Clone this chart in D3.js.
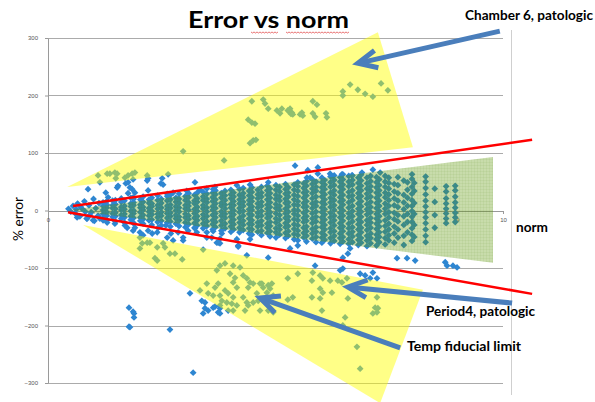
<!DOCTYPE html>
<html>
<head>
<meta charset="utf-8">
<script src="https://cdn.jsdelivr.net/npm/d3@7"></script>
<style>
  body { margin: 0; background: #fff; }
  svg { display: block; }
</style>
</head>
<body>
<svg id="chart" width="595" height="402"></svg>
<script>
// Axis tick values
const yTicks = [-300, -200, -100, 0, 100, 200, 300];
const xTicks = [0, 1, 2, 3, 4, 5, 6, 7, 8, 9, 10];

// Measurements [norm, % error] — group sitting high above the band
const upperCluster = [
  [1.10,61],[1.14,49],[1.30,64],[1.36,64],[1.47,66],[1.52,64],[1.49,56],[1.69,57],[1.76,61],
  [1.85,64],[1.91,66],[1.87,54],[2.18,61],[2.20,56],[2.64,63],[2.97,103],[3.87,87],
  [4.40,158],[4.55,151],[4.48,153],[4.44,117],[4.51,122],[4.57,123],[4.48,190],[4.73,193],
  [4.77,186],[4.84,177],[5.03,174],[5.10,169],[5.14,177],[5.27,174],[5.30,172],[5.32,177],
  [5.34,168],[5.36,170],[5.38,167],[5.54,167],[5.58,170],[5.60,165],[5.82,190],[5.91,184],
  [5.82,169],[5.87,163],[6.11,169],[6.13,162],[6.48,207],[6.48,200],[6.64,219],[6.81,210],
  [6.97,203],[7.14,198],[7.32,221],[7.47,209]
];

// Group sitting well below the band
const lowerCluster = [
  [2.02,-47],[2.07,-57],[2.02,-66],[2.18,-56],[2.24,-56],[2.40,-64],[2.53,-57],[2.57,-64],
  [2.35,-83],[2.40,-87],[2.68,-75],[2.79,-75],[2.95,-85],[3.41,-68],[3.71,-104],[3.78,-96],
  [3.89,-92],[4.07,-96],[4.22,-99],[4.00,-110],[4.11,-117],[4.29,-113],[4.37,-118],[3.49,-127],
  [3.67,-134],[3.74,-127],[4.07,-125],[4.15,-134],[3.89,-139],[3.34,-139],[3.52,-144],
  [3.63,-148],[3.78,-148],[3.96,-144],[4.07,-151],[3.82,-157],[3.93,-160],[4.04,-162],
  [4.15,-165],[4.29,-151],[4.37,-160],[4.40,-165],[4.33,-174],[4.51,-160],[4.62,-157],
  [4.70,-127],[4.73,-134],[4.84,-130],[4.92,-127],[4.81,-143],[4.95,-148],[4.59,-144],
  [3.96,-174],[4.07,-174],[3.78,-165],[4.66,-174],[4.95,-177],[4.40,-134],[4.44,-125],
  [4.84,-174],[5.27,-118],[5.27,-155],[5.49,-110],[5.38,-151],[4.51,-127],[4.66,-127],
  [4.88,-136],[5.82,-108],[5.80,-122],[5.98,-113],[6.04,-118],[6.20,-122],[6.37,-122],
  [6.46,-125],[6.57,-118],[5.98,-136],[6.04,-143],[5.80,-151],[5.98,-153],[6.24,-143],
  [6.59,-153],[7.23,-151],[7.19,-169],[7.25,-170],[7.23,-177],[7.14,-179],[6.02,-174],
  [6.53,-186],[6.48,-200],[6.79,-237],[6.86,-275]
];

// Points hugging the edges of the band
const bandEdge = [
  [0.45,3],[0.50,-2],[0.55,8],[0.60,-5],[0.62,2],[0.65,12],[0.70,-10],[0.72,6],[0.75,3],
  [0.80,16],[0.82,-2],[0.85,-14],[0.90,9],[0.92,-8],[0.95,-3],[1.00,20],[1.02,-18],[1.05,4],
  [1.10,-9],[1.12,13],
  [0.88,37],[1.27,31],[1.32,23],[1.52,40],[1.54,43],[1.71,47],[1.76,49],[1.80,40],[1.85,37],
  [1.87,23],[1.91,31],[1.76,30],[2.18,52],[2.20,35],[2.48,47],[2.51,56],[2.53,45],[2.62,29],
  [2.75,31],[3.05,34],[3.23,49],[3.34,36],[3.49,38],[3.63,37],[3.67,41],[4.15,44],[4.44,45],
  [4.84,49],[5.43,78],[5.71,70],[5.93,75],[5.69,57],[5.76,57],[5.93,64],[6.20,64],[6.24,59],
  [6.46,63],[6.68,61],[6.90,66],[7.14,71],[7.30,66],
  [0.64,-12],[0.86,-14],[0.99,-17],[1.14,-14],[1.21,-17],[1.30,-21],[1.47,-23],[1.69,-26],
  [1.74,-30],[1.87,-21],[1.91,-30],[1.87,-35],[2.02,-38],[2.09,-43],[2.20,-35],[2.29,-40],
  [2.40,-38],[2.42,-30],[2.59,-26],[2.62,-47],[2.70,-40],[2.75,-52],[2.86,-38],[2.97,-52],
  [2.97,-47],[3.08,-35],[3.23,-31],[3.27,-38],[3.49,-38],[3.49,-47],[3.60,-47],[3.63,-36],
  [3.71,-56],[3.74,-56],[3.78,-57],[3.78,-49],[3.82,-40],[4.15,-50],[4.18,-61],[4.18,-63],
  [4.44,-50],[4.37,-78],[4.84,-82],[5.32,-66],[5.49,-61],[5.87,-96],[6.42,-104],[6.48,-101],
  [6.48,-82],[6.59,-75],[6.64,-66],[6.86,-110],[6.97,-113],[7.14,-108],[7.23,-118],
  [7.08,-118],[7.67,-83],[7.89,-83],[8.07,-87],[8.73,-90],[8.77,-96],[8.90,-96],[8.99,-99]
];

// Isolated points far below
const outliers = [
  [3.12,-144],[3.38,-157],[3.41,-179],[3.45,-170],[3.45,-160],[3.52,-174],[3.63,-169],
  [3.67,-167],[3.74,-177],[3.78,-170],[3.78,-179],[1.78,-169],[1.87,-176],[1.89,-179],
  [1.89,-186],[1.78,-202],[1.80,-203],[2.68,-207],[3.19,-282]
];

// Dense core of the distribution: [norm, [% error, ...]]
const coreColumns = [
  [1.21, [-13,-6,1,8,14]],
  [1.29, [-17,-9,-3,5,10,16]],
  [1.42, [-11,-5,4,9,17]],
  [1.48, [-19,-10,-4,3,11,18]],
  [1.61, [-14,-8,1,6,15,21]],
  [1.68, [-21,-12,-6,2,8,17]],
  [1.82, [-16,-10,-1,7,12,22]],
  [1.88, [-22,-13,-5,0,9,14,20]],
  [2.03, [-18,-12,-3,5,10,19]],
  [2.09, [-23,-15,-8,1,6,15,24]],
  [2.22, [-17,-9,-2,4,13,19]],
  [2.28, [-25,-16,-7,-1,7,12,22]],
  [2.41, [-20,-12,-6,3,9,18,26]],
  [2.49, [-26,-18,-9,-3,5,13,20]],
  [2.62, [-21,-13,-5,2,8,17,25]],
  [2.69, [-28,-19,-10,-4,4,10,19,27]],
  [2.81, [-23,-14,-8,0,7,15,22]],
  [2.88, [-27,-17,-11,-2,5,13,20,29]],
  [3.02, [-29,-21,-12,-6,3,9,18,25]],
  [3.09, [-24,-15,-9,1,8,14,23,30]],
  [3.22, [-30,-22,-13,-5,2,12,17,27]],
  [3.28, [-26,-17,-10,-1,6,15,21,31]],
  [3.41, [-31,-23,-14,-7,3,9,18,24,32]],
  [3.49, [-27,-19,-10,-2,5,14,20,29]],
  [3.62, [-33,-24,-17,-8,1,7,16,23,31]],
  [3.68, [-29,-20,-12,-5,4,12,19,28,35]],
  [3.81, [-35,-26,-18,-9,-2,8,13,22,30]],
  [3.89, [-31,-23,-13,-6,3,10,18,26,34]],
  [4.02, [-37,-28,-20,-11,-4,5,11,21,28,36]],
  [4.08, [-33,-24,-16,-7,0,9,16,24,31]],
  [4.21, [-38,-30,-21,-13,-3,4,12,19,27,37]],
  [4.29, [-34,-25,-18,-9,-1,8,15,23,30,39]],
  [4.42, [-40,-31,-23,-14,-6,2,11,18,26,34]],
  [4.48, [-42,-33,-24,-17,-8,1,7,16,23,32,40]],
  [4.61, [-37,-28,-21,-11,-4,5,12,21,28,36]],
  [4.69, [-43,-35,-26,-18,-9,-1,8,15,24,31,41]],
  [4.82, [-39,-30,-23,-13,-6,3,10,19,27,35,43]],
  [4.88, [-45,-36,-27,-20,-10,-3,6,14,22,30,38]],
  [5.01, [-47,-38,-31,-21,-14,-5,4,11,20,27,36,44]],
  [5.09, [-42,-33,-26,-16,-8,1,8,17,24,33,41]],
  [5.22, [-48,-39,-29,-22,-13,-5,3,13,20,29,37,46]],
  [5.28, [-44,-36,-27,-18,-11,-2,7,14,24,31,40]],
  [5.41, [-50,-41,-32,-24,-15,-6,1,10,19,27,36,45]],
  [5.49, [-52,-43,-35,-26,-17,-9,0,9,16,25,34,42,49]],
  [5.62, [-47,-39,-30,-20,-13,-4,6,13,22,31,39,47]],
  [5.68, [-54,-44,-36,-28,-18,-10,-1,7,16,26,33,43,51]],
  [5.81, [-49,-40,-32,-22,-14,-5,4,12,21,30,38,46,54]],
  [5.89, [-55,-46,-37,-29,-19,-11,-2,8,15,24,34,41,50]],
  [6.02, [-56,-47,-39,-29,-21,-12,-3,5,14,24,32,40,49,57]],
  [6.08, [-51,-43,-33,-25,-16,-7,2,11,19,28,37,45,53]],
  [6.21, [-57,-48,-38,-31,-21,-12,-4,6,14,22,31,41,49,59]],
  [6.29, [-53,-44,-36,-26,-17,-9,1,9,18,27,35,44,53,61]],
  [6.42, [-58,-48,-40,-30,-22,-12,-4,5,15,23,32,41,50,58]],
  [6.48, [-54,-46,-36,-28,-18,-9,0,10,18,27,37,45,54,63]],
  [6.61, [-58,-50,-40,-31,-23,-13,-5,5,14,24,32,42,50,60]],
  [6.69, [-55,-45,-37,-29,-19,-10,-1,8,18,26,35,45,53,61]],
  [6.82, [-60,-51,-43,-33,-24,-16,-6,3,12,22,30,39,48,57]],
  [6.88, [-56,-48,-38,-30,-20,-11,-2,7,16,25,35,43,52,62]],
  [7.01, [-62,-52,-44,-34,-25,-17,-7,2,11,21,29,38,47,57]],
  [7.09, [-57,-48,-40,-30,-21,-13,-3,6,15,24,34,42,51,60]],
  [7.22, [-61,-50,-42,-32,-23,-14,-6,4,13,22,31,40,49,58]],
  [7.28, [-55,-46,-38,-28,-19,-10,-1,8,17,27,35,44,54]],
  [7.41, [-59,-48,-37,-27,-17,-6,3,12,23,31,41,50,60]],
  [7.49, [-52,-43,-33,-23,-12,-3,8,18,28,38,48,57]],
  [7.61, [-56,-40,-28,-15,-4,9,21,33,46]],
  [7.69, [-47,-33,-19,-8,6,17,30,44,58]],
  [7.82, [-60,-44,-25,-10,2,14,27,52]],
  [7.90, [-38,-20,-6,8,22,36,49]],
  [8.00, [-53,-42,-31,-20,-11,-1,8,18,29,41,55,63]],
  [8.05, [-46,-25,-6,13,34,48]],
  [8.30, [-55,-44,-33,-22,-12,-3,7,17,28,39,50,59]],
  [8.50, [-30,-8,15,38]],
  [8.75, [-22,-14,-5,3,12,21,33,42]],
  [8.95, [-20,-12,-4,5,14,24,35,43]]
];

// Highlighted zones and limit lines, in [norm, % error]
const upperZone = [[0.42,41],[7.25,310],[8.02,110]];
const lowerZone = [[0.77,-25],[8.24,-138],[7.30,-335]];
const fiducialBand = [[0.44,1],[9.78,93],[9.78,-91]];
const limitUpper = [[0.55,8],[10.64,123]];
const limitLower = [[0.44,-3],[10.64,-145]];

// Callouts: arrow tail, arrow tip, label
const callouts = [
  { from: [9.93,312], to: [6.81,256], text: "Chamber 6, patologic", tx: 465, ty: 20, tw: 128 },
  { from: [10.2,-161], to: [6.59,-133], text: "Period4, patologic", tx: 426, ty: 316, tw: 109 },
  { from: [7.74,-239], to: [4.66,-152], text: "Temp fiducial limit", tx: 407, ty: 351, tw: 114 }
];

const svg = d3.select("#chart");
const x = d3.scaleLinear().domain([0, 10]).range([48, 503]);
const y = d3.scaleLinear().domain([-300, 300]).range([383, 38]);
const font = "Lato, 'Open Sans', 'DejaVu Sans', sans-serif";

const defs = svg.append("defs");
const pat = defs.append("pattern").attr("id", "bandTex")
  .attr("width", 3).attr("height", 3).attr("patternUnits", "userSpaceOnUse");
pat.append("path").attr("d", "M0,0.5H3M0.5,0V3")
  .attr("stroke", "rgb(70,120,0)").attr("stroke-opacity", 0.06).attr("stroke-width", 1);

// Right frame line
svg.append("line").attr("x1", 511.5).attr("x2", 511.5).attr("y1", 30).attr("y2", 395)
  .attr("stroke", "#cfcfcf").attr("stroke-width", 1);

// Horizontal gridlines
svg.append("g").selectAll("line").data(yTicks.filter(t => t !== 0)).join("line")
  .attr("x1", x(0)).attr("x2", x(10))
  .attr("y1", d => Math.round(y(d)) + 0.5).attr("y2", d => Math.round(y(d)) + 0.5)
  .attr("stroke", "#ababab").attr("stroke-width", 1);

// Axes
const yAxis = svg.append("g").attr("transform", `translate(${x(0)},0)`)
  .call(d3.axisLeft(y).tickValues(yTicks).tickSize(3).tickSizeOuter(0).tickPadding(7));
const xAxis = svg.append("g").attr("transform", `translate(0,${Math.round(y(0))})`)
  .call(d3.axisBottom(x).tickValues(xTicks).tickSize(3).tickSizeOuter(0).tickPadding(4));
[yAxis, xAxis].forEach(g => {
  g.selectAll("path.domain").attr("stroke", "#9a9a9a");
  g.selectAll(".tick line").attr("stroke", "#9a9a9a");
  g.selectAll(".tick text").attr("fill", "#555").attr("font-size", 6)
    .attr("font-family", "'Liberation Sans', Arial, sans-serif");
});

// Scatter markers (diamonds)
const allPoints = [
  ...outliers, ...upperCluster, ...lowerCluster, ...bandEdge,
  ...coreColumns.flatMap(([n, errs]) => errs.map(e => [n, e]))
];
const marker = d3.symbol().type(d3.symbolSquare).size(23)();
svg.append("g").selectAll("path").data(allPoints).join("path")
  .attr("d", marker)
  .attr("transform", d => `translate(${x(d[0])},${y(d[1])}) rotate(45)`)
  .attr("fill", "#2e86d1");

// Translucent highlight zones
const poly = pts => "M" + pts.map(p => `${x(p[0])},${y(p[1])}`).join("L") + "Z";
svg.append("path").attr("d", poly(upperZone)).attr("fill", "#ffff00").attr("fill-opacity", 0.47);
svg.append("path").attr("d", poly(lowerZone)).attr("fill", "#ffff00").attr("fill-opacity", 0.47);
svg.append("path").attr("d", poly(fiducialBand)).attr("fill", "rgb(88,148,0)").attr("fill-opacity", 0.33);
svg.append("path").attr("d", poly(fiducialBand)).attr("fill", "url(#bandTex)");

// Limit lines
const line = d3.line().x(d => x(d[0])).y(d => y(d[1]));
[limitUpper, limitLower].forEach(l => {
  svg.append("path").attr("d", line(l)).attr("fill", "none")
    .attr("stroke", "#ff0000").attr("stroke-width", 2.5);
});

// Callout arrows with open heads
const arrowColor = "#4a7ebb";
callouts.forEach(c => {
  const fx = x(c.from[0]), fy = y(c.from[1]);
  const tx = x(c.to[0]), ty = y(c.to[1]);
  const len = Math.hypot(fx - tx, fy - ty);
  const ux = (fx - tx) / len, uy = (fy - ty) / len;
  const head = 21, ang = 25 * Math.PI / 180;
  const arm = s => [
    tx + head * (ux * Math.cos(s * ang) - uy * Math.sin(s * ang)),
    ty + head * (ux * Math.sin(s * ang) + uy * Math.cos(s * ang))
  ];
  const a1 = arm(1), a2 = arm(-1);
  svg.append("line").attr("x1", fx).attr("y1", fy).attr("x2", tx + ux * 2).attr("y2", ty + uy * 2)
    .attr("stroke", arrowColor).attr("stroke-width", 5);
  svg.append("path").attr("d", `M${a1[0]},${a1[1]}L${tx},${ty}L${a2[0]},${a2[1]}`)
    .attr("fill", "none").attr("stroke", arrowColor).attr("stroke-width", 5)
    .attr("stroke-linejoin", "miter");
  svg.append("text").attr("x", c.tx).attr("y", c.ty).text(c.text)
    .attr("font-family", font).attr("font-weight", "bold").attr("font-size", 12.5)
    .attr("textLength", c.tw).attr("lengthAdjust", "spacingAndGlyphs").attr("fill", "#000");
});

// Title
svg.append("text").attr("x", 188).attr("y", 28).text("Error vs norm")
  .attr("font-family", font).attr("font-weight", "bold").attr("font-size", 23)
  .attr("textLength", 161).attr("lengthAdjust", "spacingAndGlyphs").attr("fill", "#000");

// Spell-check squiggles under the title words
const squiggle = (x0, x1, yy) => {
  let d = `M${x0},${yy}`;
  for (let xx = x0 + 1.5, k = 1; xx <= x1; xx += 1.5, k++) d += `L${xx},${yy + (k % 2 ? 1 : 0)}`;
  return d;
};
[[251, 278], [286, 350]].forEach(([a, b]) => {
  svg.append("path").attr("d", squiggle(a, b, 32)).attr("fill", "none")
    .attr("stroke", "#e03a3a").attr("stroke-width", 0.7);
});

// Axis titles
svg.append("text").attr("x", 516).attr("y", 232).text("norm")
  .attr("font-family", font).attr("font-weight", "bold").attr("font-size", 13)
  .attr("textLength", 32).attr("lengthAdjust", "spacingAndGlyphs");
svg.append("text").attr("transform", "translate(23,219) rotate(-90)")
  .attr("text-anchor", "middle").text("% error")
  .attr("font-family", font).attr("font-size", 13.5)
  .attr("textLength", 44).attr("lengthAdjust", "spacingAndGlyphs");
</script>
</body>
</html>
